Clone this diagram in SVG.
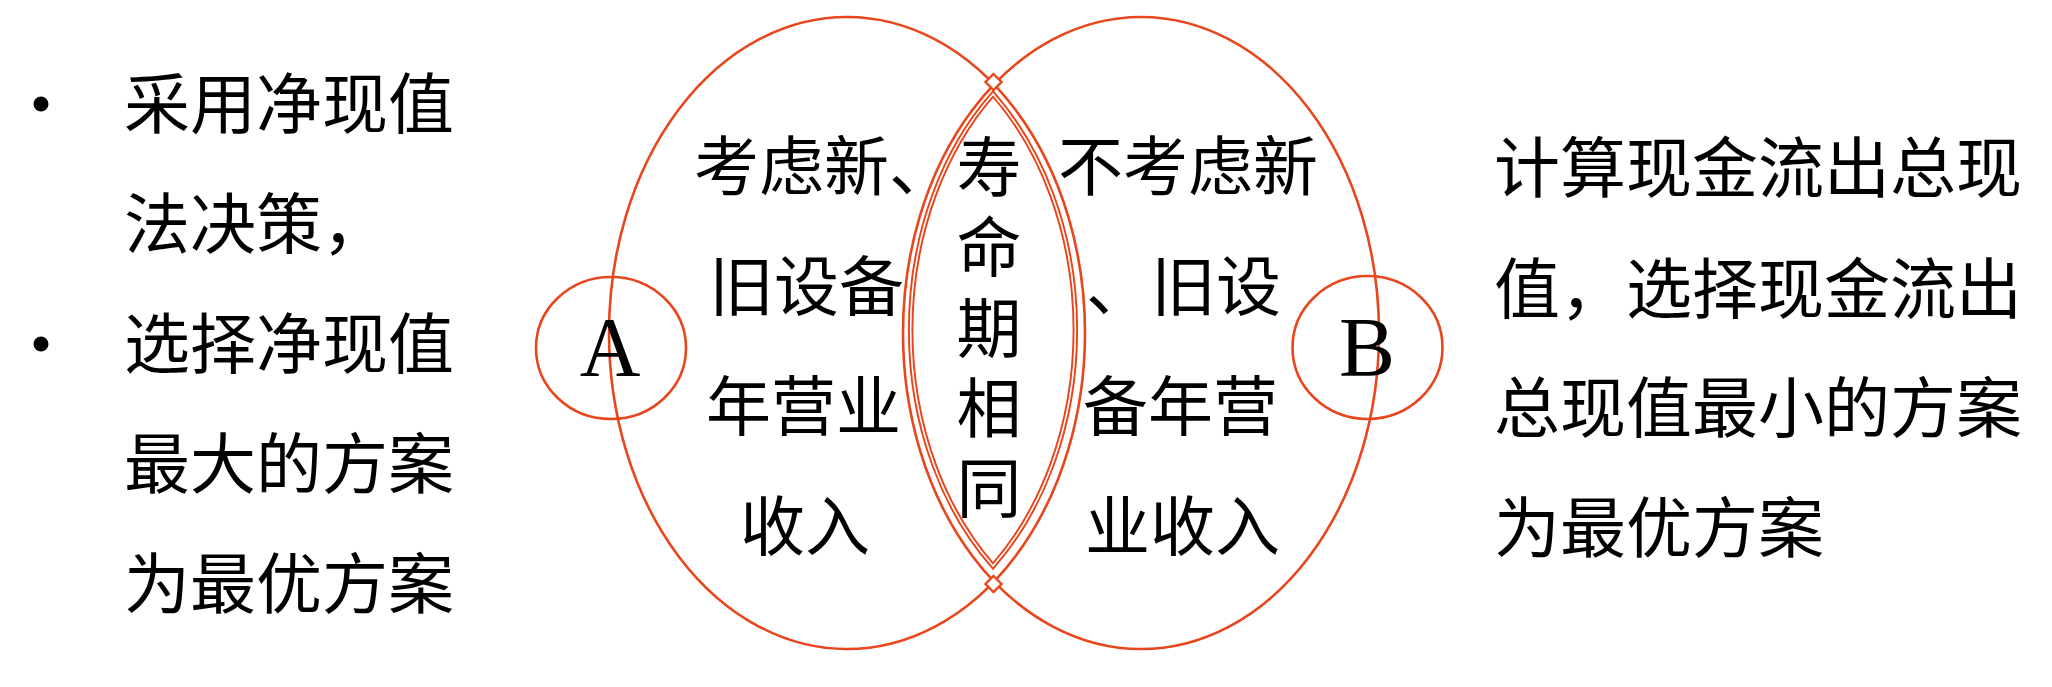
<svg xmlns="http://www.w3.org/2000/svg" width="2052" height="687" viewBox="0 0 2052 687">
<style>
.cjk{font-family:"Noto Sans CJK SC","Noto Sans CJK JP",sans-serif;font-size:66px;fill:#000}
.mid{font-family:"Noto Sans CJK SC","Noto Sans CJK JP",sans-serif;font-size:65px;fill:#000}
.lat{font-family:"Liberation Serif","Times New Roman",serif;font-size:84px;fill:#000}
.ln{fill:none;stroke:#E8461C;stroke-width:2.6}
</style>
<rect width="2052" height="687" fill="#fff"/>
<g id="left-text">
<circle cx="41" cy="104" r="7.5" fill="#000"/>
<circle cx="41" cy="344" r="7.5" fill="#000"/>
<text class="cjk" x="124" y="128">采用净现值</text>
<text class="cjk" x="124" y="248">法决策，</text>
<text class="cjk" x="124" y="368">选择净现值</text>
<text class="cjk" x="124" y="488">最大的方案</text>
<text class="cjk" x="124" y="608">为最优方案</text>
</g>
<g id="ellipse-A">
<ellipse class="ln" cx="847" cy="333" rx="238" ry="316"/>
</g>
<g id="ellipse-B">
<ellipse class="ln" cx="1141" cy="333" rx="238" ry="316"/>
</g>
<g id="lens">
<path d="M993,94 A240 313 0 0 0 993 566 A240 313 0 0 0 993 94 Z" fill="none" stroke="#E8461C" stroke-width="5.5"/>
<path d="M993,94 A240 313 0 0 0 993 566 A240 313 0 0 0 993 94 Z" fill="none" stroke="#fff" stroke-width="1.6"/>
<path d="M993.5,74 L1001.5,82 L993.5,90 L985.5,82 Z" fill="#fff" stroke="#E8461C" stroke-width="2.4"/>
<path d="M993.5,576 L1001.5,584 L993.5,592 L985.5,584 Z" fill="#fff" stroke="#E8461C" stroke-width="2.4"/>
</g>
<g id="circle-A">
<ellipse class="ln" cx="611" cy="348" rx="75" ry="71"/>
<text class="lat" x="610" y="376" text-anchor="middle">A</text>
</g>
<g id="circle-B">
<ellipse class="ln" cx="1367.5" cy="347.5" rx="75" ry="71.5"/>
<text class="lat" x="1367" y="376" text-anchor="middle">B</text>
</g>
<g id="text-A">
<text class="mid" x="694" y="190">考虑新、</text>
<text class="mid" x="709" y="310">旧设备</text>
<text class="mid" x="706" y="430">年营业</text>
<text class="mid" x="740" y="550">收入</text>
</g>
<g id="text-common">
<text class="mid" x="989" y="134" writing-mode="vertical-rl" letter-spacing="15.2">寿命期相同</text>
</g>
<g id="text-B">
<text class="mid" x="1058" y="190">不考虑新</text>
<text class="mid" x="1086" y="310">、旧设</text>
<text class="mid" x="1083" y="430">备年营</text>
<text class="mid" x="1085" y="550">业收入</text>
</g>
<g id="right-text">
<text class="cjk" x="1494" y="192">计算现金流出总现</text>
<text class="cjk" x="1494" y="313">值，选择现金流出</text>
<text class="cjk" x="1494" y="432">总现值最小的方案</text>
<text class="cjk" x="1494" y="552">为最优方案</text>
</g>
<g id="connectors"></g>
</svg>
